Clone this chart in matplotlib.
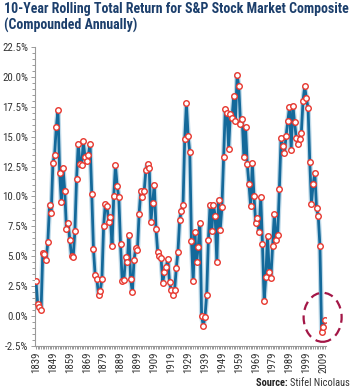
import matplotlib
matplotlib.use("Agg")
import matplotlib.pyplot as plt
from matplotlib.patches import Ellipse
from matplotlib.ticker import MultipleLocator, FixedLocator
import numpy as np

plt.rcParams['font.family'] = ['Roboto Condensed', 'Archivo Narrow', 'DejaVu Sans']

start_year = 1839
returns = [
    2.9, 1.0, 0.75, 0.5, 5.3, 5.2, 4.7, 6.2, 9.3, 8.6,          # 1839-1848
    12.8, 13.5, 15.8, 17.2, 12.0, 9.5, 12.4, 10.5, 7.3, 7.8,   # 1849-1858
    6.4, 5.0, 4.9, 7.1, 11.5, 14.4, 12.7, 12.6, 14.6, 13.3,    # 1859-1868
    13.0, 13.5, 14.4, 10.2, 5.6, 3.4, 3.1, 1.75, 2.1, 3.1,     # 1869-1878
    7.5, 9.4, 9.2, 7.9, 8.25, 5.9, 10.05, 12.6, 10.9, 9.95,    # 1879-1888
    6.05, 2.9, 3.0, 4.95, 4.5, 6.8, 3.1, 2.0, 4.7, 5.7,        # 1889-1898
    5.5, 8.5, 10.5, 9.95, 10.45, 12.2, 12.7, 12.4, 7.9, 9.45,  # 1899-1908
    11.0, 7.3, 5.4, 5.0, 4.85, 2.8, 3.7, 4.1, 4.75, 2.85,      # 1909-1918
    2.2, 1.8, 2.15, 4.0, 5.4, 8.05, 8.8, 9.3, 14.8, 17.8,      # 1919-1928
    15.1, 13.7, 6.25, 2.9, 7.0, 4.5, 5.8, 7.8, 0.0, -0.8,      # 1929-1938
    -0.05, 1.8, 6.4, 9.3, 7.1, 9.3, 8.4, 4.5, 9.7, 7.2,        # 1939-1948
    9.1, 13.3, 17.3, 17.0, 14.0, 16.9, 16.6, 18.4, 16.3, 20.2, # 1949-1958
    19.2, 16.1, 16.5, 13.3, 15.8, 12.7, 11.05, 9.2, 12.8, 10.0,# 1959-1968
    7.8, 8.2, 7.0, 9.95, 6.0, 1.3, 3.3, 6.7, 3.7, 3.2,         # 1969-1978
    5.85, 8.5, 6.4, 6.8, 10.6, 14.9, 14.25, 13.6, 15.1, 16.3,  # 1979-1988
    17.5, 13.9, 17.6, 16.2, 14.9, 14.4, 14.8, 15.3, 18.0, 19.2,# 1989-1998
    18.2, 17.4, 12.9, 9.4, 11.05, 12.0, 9.0, 8.4, 5.9, -1.35,  # 1999-2008
    -0.9, -0.3,                                                 # 2009-2010
]
years = np.arange(start_year, start_year + len(returns))

title = "10-Year Rolling Total Return for S&P Stock Market Composite\n(Compounded Annually)"
y_ticks = [-2.5, 0.0, 2.5, 5.0, 7.5, 10.0, 12.5, 15.0, 17.5, 20.0, 22.5]
x_ticks = list(range(1839, 2010, 10))

fig = plt.figure(figsize=(3.53, 3.90), dpi=100)
ax = fig.add_axes([35/353, 1-346/390, 291/353, 299/390])

line_col = '#14699a'
ax.plot(years, returns, color='#a6cbe0', lw=3.8, alpha=0.7, solid_joinstyle='round', zorder=2)
ax.plot(years, returns, color=line_col, lw=2.0, solid_joinstyle='round', zorder=3)
ax.plot(years, returns, linestyle='none', marker='o', ms=4.0, mfc='white',
        mec='#e8372e', mew=1.0, zorder=4)

ax.set_ylim(-2.5, 22.5)
ax.set_xlim(1838.4, 2010.6)
ax.yaxis.set_major_locator(FixedLocator(y_ticks))
ax.yaxis.set_minor_locator(MultipleLocator(0.5))
ax.set_yticklabels([f"{v:.1f}%" for v in y_ticks])
ax.xaxis.set_major_locator(FixedLocator(x_ticks))
ax.xaxis.set_minor_locator(MultipleLocator(1))
ax.set_xticklabels([str(v) for v in x_ticks], rotation=90)

for s in ['top', 'right']:
    ax.spines[s].set_visible(False)
for s in ['left', 'bottom']:
    ax.spines[s].set_color('#9a9a9a')
    ax.spines[s].set_linewidth(0.8)
ax.tick_params(axis='both', which='both', color='#9a9a9a', width=0.7,
               direction='out')
ax.tick_params(axis='y', which='major', length=3, labelsize=7.8, labelcolor='#333333', pad=2)
ax.tick_params(axis='y', which='minor', length=2)
ax.tick_params(axis='x', which='major', length=2, labelsize=7.8, labelcolor='#333333', pad=2)
ax.tick_params(axis='x', which='minor', length=2)

ell = Ellipse((2008.6, -0.1), 22.5, 4.1, fill=False, edgecolor='#a31646',
              lw=1.6, linestyle=(0, (4, 2.5)), zorder=5, clip_on=False)
ax.add_patch(ell)

fig.text(4/353, 1-2/390, title, ha='left', va='top', fontsize=10.0, fontweight='bold',
         color='#1c3f6c', linespacing=1.2)

t1 = fig.text(1-3/353, 1-383/390, "Stifel Nicolaus", ha='right', va='center',
              fontsize=7.5, color='#333333')
fig.canvas.draw()
ax.annotate("Source: ", xy=(0, 0.5), xycoords=t1, ha='right', va='center',
            fontsize=7.5, fontweight='bold', color='#222222')

fig.savefig('out.png', dpi=100)
